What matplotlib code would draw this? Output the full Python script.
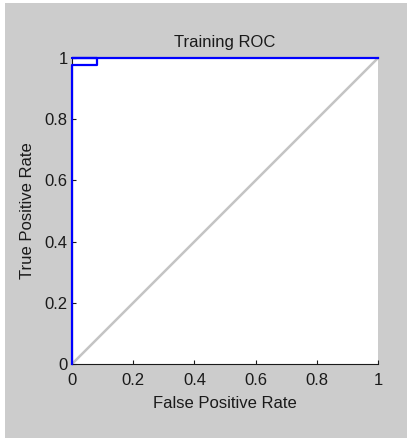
import matplotlib
matplotlib.use("Agg")
import matplotlib.pyplot as plt
from matplotlib.patches import Rectangle

plt.rcParams['font.family'] = ['Liberation Sans', 'DejaVu Sans']

# ROC curve points (false positive rate, true positive rate)
fpr = [0.0, 0.0, 0.082, 0.082, 0.0, 1.0]
tpr = [0.0, 0.977, 0.977, 1.0, 1.0, 1.0]
# chance diagonal
diag_x = [0, 1]
diag_y = [0, 1]
ticks = [0, 0.2, 0.4, 0.6, 0.8, 1]
tick_labels = ["0", "0.2", "0.4", "0.6", "0.8", "1"]

fig = plt.figure(figsize=(4.07, 4.38), dpi=100, facecolor="white")
fig.patches.append(Rectangle((5/407, 0), 1, 1 - 3/438, transform=fig.transFigure,
                             facecolor="#cccccc", edgecolor="none", zorder=-10))

ax = fig.add_axes([72/407, 74/438, 306/407, 306/438])
ax.set_zorder(1)
ax.set_facecolor("white")
ax.plot(diag_x, diag_y, color="#c4c4c4", lw=1.8, clip_on=False)
ax.plot(fpr, tpr, color="#0000ff", lw=1.6, clip_on=False, zorder=5)

ax.set_xlim(0, 1)
ax.set_ylim(0, 1)
ax.set_xticks(ticks)
ax.set_xticklabels(tick_labels)
ax.set_yticks(ticks)
ax.set_yticklabels(tick_labels)
ax.tick_params(direction="in", length=3, width=0.8, labelsize=12,
               colors="#1a1a1a", pad=3)
ax.tick_params(axis="x", pad=6.5)
for s in ["top", "right"]:
    ax.spines[s].set_visible(False)
ax.spines["left"].set_color("#1a1a1a")
ax.spines["bottom"].set_color("#1a1a1a")

ax.set_title("Training ROC", fontsize=12, color="#1a1a1a", pad=8)
ax.set_xlabel("False Positive Rate", fontsize=12, color="#1a1a1a", labelpad=6)
ax.set_ylabel("True Positive Rate", fontsize=12, color="#1a1a1a", labelpad=7)

fig.savefig("out.png", dpi=100, facecolor=fig.get_facecolor())
